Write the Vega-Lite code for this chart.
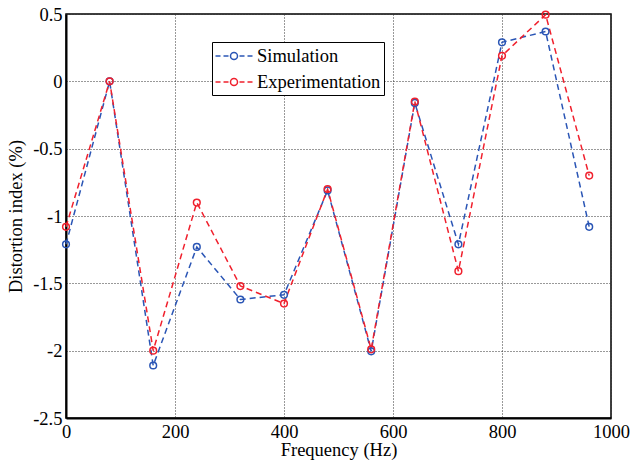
{
  "$schema": "https://vega.github.io/schema/vega-lite/v6.json",
  "width": 545,
  "height": 404,
  "autosize": {"type": "none"},
  "padding": {"left": 66, "top": 14, "right": 19, "bottom": 47},
  "background": "white",
  "config": {
    "font": "Liberation Serif, serif",
    "view": {"stroke": "black", "strokeWidth": 1.5},
    "axis": {
      "grid": true,
      "gridColor": "#333333",
      "gridDash": [1, 2],
      "gridOpacity": 1,
      "gridWidth": 1,
      "domainColor": "#000000",
      "domainWidth": 2,
      "ticks": false,
      "labelFont": "Liberation Serif, serif",
      "titleFont": "Liberation Serif, serif",
      "labelFontSize": 18.5,
      "labelColor": "#000000",
      "labelFlush": false,
      "labelOverlap": false,
      "titleFontSize": 18.5,
      "titleFontWeight": "normal",
      "titleColor": "#000000"
    },
    "legend": {
      "orient": "none",
      "legendX": 146,
      "legendY": 28,
      "strokeColor": "#000000",
      "fillColor": "#ffffff",
      "padding": 3,
      "labelFontSize": 18.5,
      "labelFont": "Liberation Serif, serif",
      "labelColor": "#000000",
      "symbolType": "M-1.85,0H-1.35M-1.05,0H-0.55M0.35,0A0.35,0.35 0 1,1 -0.35,0A0.35,0.35 0 1,1 0.35,0M0.55,0H1.05M1.35,0H1.85",
      "symbolSize": 400,
      "symbolStrokeWidth": 1.5,
      "symbolOffset": 8,
      "labelOffset": 12,
      "rowPadding": 5
    }
  },
  "data": {
    "values": [
      {"series": "Simulation", "f": 0, "v": -1.21},
      {"series": "Simulation", "f": 80, "v": 0},
      {"series": "Simulation", "f": 160, "v": -2.11},
      {"series": "Simulation", "f": 240, "v": -1.23},
      {"series": "Simulation", "f": 320, "v": -1.62},
      {"series": "Simulation", "f": 400, "v": -1.585},
      {"series": "Simulation", "f": 480, "v": -0.81},
      {"series": "Simulation", "f": 560, "v": -2.005},
      {"series": "Simulation", "f": 640, "v": -0.16},
      {"series": "Simulation", "f": 720, "v": -1.21},
      {"series": "Simulation", "f": 800, "v": 0.29},
      {"series": "Simulation", "f": 880, "v": 0.37},
      {"series": "Simulation", "f": 960, "v": -1.08},
      {"series": "Experimentation", "f": 0, "v": -1.08},
      {"series": "Experimentation", "f": 80, "v": 0},
      {"series": "Experimentation", "f": 160, "v": -2.0},
      {"series": "Experimentation", "f": 240, "v": -0.9},
      {"series": "Experimentation", "f": 320, "v": -1.52},
      {"series": "Experimentation", "f": 400, "v": -1.65},
      {"series": "Experimentation", "f": 480, "v": -0.8},
      {"series": "Experimentation", "f": 560, "v": -1.99},
      {"series": "Experimentation", "f": 640, "v": -0.15},
      {"series": "Experimentation", "f": 720, "v": -1.41},
      {"series": "Experimentation", "f": 800, "v": 0.19},
      {"series": "Experimentation", "f": 880, "v": 0.495},
      {"series": "Experimentation", "f": 960, "v": -0.7}
    ]
  },
  "encoding": {
    "x": {
      "field": "f",
      "type": "quantitative",
      "scale": {"domain": [0, 1000], "nice": false, "zero": false},
      "axis": {"values": [0, 200, 400, 600, 800, 1000], "labelExpr": "'' + datum.value", "title": "Frequency (Hz)", "labelPadding": 4, "titlePadding": 0}
    },
    "y": {
      "field": "v",
      "type": "quantitative",
      "scale": {"domain": [-2.5, 0.5], "nice": false, "zero": false},
      "axis": {"values": [-2.5, -2, -1.5, -1, -0.5, 0, 0.5], "labelExpr": "'' + datum.value", "title": "Distortion index (%)", "labelPadding": 4, "titlePadding": 7}
    },
    "color": {
      "field": "series",
      "type": "nominal",
      "sort": ["Simulation", "Experimentation"],
      "scale": {"domain": ["Simulation", "Experimentation"], "range": ["#2a55b5", "#f0202d"]},
      "legend": {"title": null}
    }
  },
  "layer": [
    {"mark": {"type": "line", "strokeDash": [6, 4], "strokeWidth": 1.5}},
    {"mark": {"type": "point", "shape": "circle", "filled": false, "size": 45, "strokeWidth": 1.5, "opacity": 1}}
  ]
}
